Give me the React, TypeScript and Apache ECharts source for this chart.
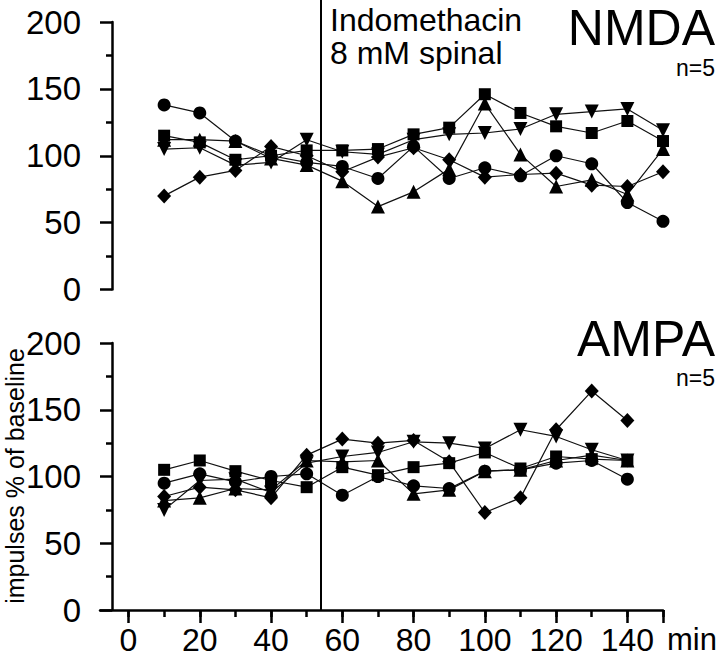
import React, { useEffect, useRef } from "react";
import * as echarts from "echarts";

// time points (min)
const nmdaTimes = [10, 20, 30, 40, 50, 60, 70, 80, 90, 100, 110, 120, 130, 140, 150];
const ampaTimes = [10, 20, 30, 40, 50, 60, 70, 80, 90, 100, 110, 120, 130, 140];

// NMDA panel (impulses % of baseline)
const nmdaCircle = [138, 132, 111, 100, 95, 92, 83, 107, 83, 91, 85, 100, 94, 65, 51];
const nmdaSquare = [115, 110, 97, 100, 104, 104, 105, 116, 121, 146, 132, 122, 117, 126, 111];
const nmdaTriUp = [112, 112, 111, 98, 93, 81, 62, 73, 90, 139, 101, 77, 82, 71, 105];
const nmdaTriDown = [105, 106, 93, 95, 112, 103, 101, 112, 116, 117, 120, 131, 133, 135, 119];
const nmdaDiamond = [70, 84, 89, 107, 100, 88, 99, 106, 97, 84, 86, 87, 78, 77, 88];

// AMPA panel
const ampaCircle = [95, 102, 96, 100, 102, 86, 100, 93, 91, 104, 105, 110, 112, 98];
const ampaSquare = [105, 112, 104, 97, 92, 107, 101, 107, 110, 118, 106, 115, 113, 112];
const ampaTriUp = [82, 84, 91, 90, 112, 111, 112, 87, 90, 104, 105, 112, 116, 112];
const ampaTriDown = [75, 97, 98, 88, 110, 115, 118, 126, 125, 121, 135, 130, 120, 112];
const ampaDiamond = [85, 92, 90, 84, 116, 128, 125, 127, 111, 73, 84, 135, 164, 142];

// treatment onset (min)
const treatmentTime = 54;

const yTicks = { min: 0, max: 200, interval: 50 };
const xRange = { min: -8, max: 150 };

const FONT = "'Liberation Sans', Arial, Helvetica, sans-serif";

export default function App() {
  const ref = useRef<HTMLDivElement>(null);

  useEffect(() => {
    if (!ref.current) return;
    const chart = echarts.init(ref.current, null, { renderer: "svg" });

    const L = 100;
    const R = 57;
    const W = 720 - L - R;
    const pxPerMin = W / (xRange.max - xRange.min);
    const left0 = L + (0 - xRange.min) * pxPerMin;

    const mk = (
      times: number[],
      vals: number[],
      symbol: string,
      size: number | number[],
      rotate: number,
      idx: number
    ) => ({
      type: "line",
      xAxisIndex: idx,
      yAxisIndex: idx,
      data: vals.map((v, i) => [times[i], v]),
      symbol,
      symbolSize: size,
      symbolRotate: rotate,
      showAllSymbol: true,
      lineStyle: { color: "#111", width: 1.2 },
      itemStyle: { color: "#000" },
      emphasis: { disabled: true },
    });

    const yAxisCommon = (gridIndex: number) => ({
      type: "value",
      gridIndex,
      min: yTicks.min,
      max: yTicks.max,
      interval: yTicks.interval,
      offset: -12,
      axisLine: { show: true, onZero: false, lineStyle: { color: "#000", width: 2.5 } },
      axisTick: { show: true, length: 12, lineStyle: { color: "#000", width: 2.5 } },
      minorTick: { show: true, splitNumber: 2, length: 6, lineStyle: { color: "#000", width: 2.5 } },
      splitLine: { show: false },
      axisLabel: { color: "#000", fontSize: 33, fontFamily: FONT, margin: 31 },
    });

    const g = (left: number, top: number, height: number) => ({
      left,
      right: R,
      top,
      height,
      containLabel: false,
      outerBoundsMode: "none",
    });

    const option: any = {
      animation: false,
      backgroundColor: "#fff",
      grid: [g(L, 22, 267.5), g(L, 343, 267), g(L, 0, 610), g(left0, 343, 267)],
      xAxis: [
        { type: "value", gridIndex: 0, min: xRange.min, max: xRange.max, show: false },
        {
          type: "value",
          gridIndex: 1,
          min: xRange.min,
          max: xRange.max,
          axisLine: { show: true, onZero: false, lineStyle: { color: "#000", width: 2.5 } },
          axisTick: { show: false },
          axisLabel: { show: false },
          splitLine: { show: false },
        },
        { type: "value", gridIndex: 2, min: xRange.min, max: xRange.max, show: false },
        {
          type: "value",
          gridIndex: 3,
          position: "bottom",
          min: 0,
          max: 150,
          interval: 10,
          axisLine: { show: false, onZero: false },
          axisTick: { show: true, length: 7, lineStyle: { color: "#000", width: 2.5 } },
          axisLabel: { show: false },
          splitLine: { show: false },
        },
        {
          type: "value",
          gridIndex: 3,
          position: "bottom",
          min: 0,
          max: 150,
          interval: 20,
          axisLine: { show: false, onZero: false },
          axisTick: { show: true, length: 13, lineStyle: { color: "#000", width: 2.5 } },
          axisLabel: {
            color: "#000",
            fontSize: 32,
            fontFamily: FONT,
            margin: 14,
            formatter: (v: number) => (v >= 150 ? "" : String(v)),
          },
          splitLine: { show: false },
        },
      ],
      yAxis: [
        yAxisCommon(0),
        yAxisCommon(1),
        { type: "value", gridIndex: 2, min: 0, max: 1, show: false },
        { type: "value", gridIndex: 3, min: 0, max: 1, show: false },
      ],
      series: [
        mk(nmdaTimes, nmdaCircle, "circle", 13, 0, 0),
        mk(nmdaTimes, nmdaSquare, "rect", 12, 0, 0),
        mk(nmdaTimes, nmdaTriUp, "triangle", 14, 0, 0),
        mk(nmdaTimes, nmdaTriDown, "triangle", 14, 180, 0),
        mk(nmdaTimes, nmdaDiamond, "diamond", [14, 15], 0, 0),
        mk(ampaTimes, ampaCircle, "circle", 13, 0, 1),
        mk(ampaTimes, ampaSquare, "rect", 12, 0, 1),
        mk(ampaTimes, ampaTriUp, "triangle", 14, 0, 1),
        mk(ampaTimes, ampaTriDown, "triangle", 14, 180, 1),
        mk(ampaTimes, ampaDiamond, "diamond", [14, 15], 0, 1),
        {
          type: "line",
          xAxisIndex: 2,
          yAxisIndex: 2,
          data: [],
          markLine: {
            silent: true,
            symbol: "none",
            label: { show: false },
            lineStyle: { color: "#000", width: 2, type: "solid" },
            data: [{ xAxis: treatmentTime }],
          },
        },
      ],
      graphic: [
        {
          type: "text",
          x: 15,
          y: 476,
          rotation: Math.PI / 2,
          style: {
            text: "impulses % of baseline",
            fontSize: 25,
            fontFamily: FONT,
            fill: "#000",
            textAlign: "center",
            textVerticalAlign: "middle",
          },
        },
        {
          type: "text",
          x: 330,
          y: 3,
          style: {
            text: "Indomethacin\n8 mM spinal",
            fontSize: 32,
            lineHeight: 33,
            fontFamily: FONT,
            fill: "#000",
            textAlign: "left",
            textVerticalAlign: "top",
          },
        },
        {
          type: "text",
          x: 715,
          y: 4,
          style: { text: "NMDA", fontSize: 50, lineHeight: 48, fontFamily: FONT, fill: "#000", textAlign: "right", textVerticalAlign: "top" },
        },
        {
          type: "text",
          x: 715,
          y: 57,
          style: { text: "n=5", fontSize: 23, lineHeight: 22, fontFamily: FONT, fill: "#000", textAlign: "right", textVerticalAlign: "top" },
        },
        {
          type: "text",
          x: 715,
          y: 315,
          style: { text: "AMPA", fontSize: 50, lineHeight: 48, fontFamily: FONT, fill: "#000", textAlign: "right", textVerticalAlign: "top" },
        },
        {
          type: "text",
          x: 715,
          y: 367,
          style: { text: "n=5", fontSize: 23, lineHeight: 22, fontFamily: FONT, fill: "#000", textAlign: "right", textVerticalAlign: "top" },
        },
        {
          type: "text",
          x: 667,
          y: 624,
          style: { text: "min", fontSize: 31, fontFamily: FONT, fill: "#000", textAlign: "left", textVerticalAlign: "top" },
        },
      ],
    };

    chart.setOption(option);
    return () => chart.dispose();
  }, []);

  return (
    <div
      ref={ref}
      style={{ position: "absolute", left: 0, top: 0, width: 720, height: 658 }}
    />
  );
}
